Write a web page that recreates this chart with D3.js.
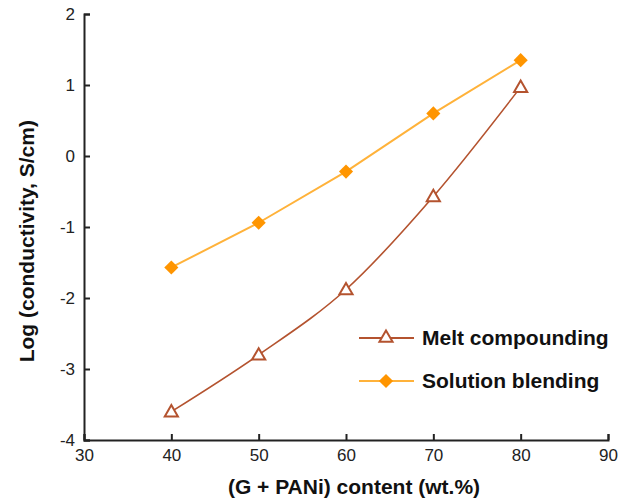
<!DOCTYPE html>
<html lang="en">
<head>
<meta charset="utf-8">
<script src="https://d3js.org/d3.v7.min.js"></script>
<style type="text/css">
body {
	margin: 0;
	background-color: #ffffff;
	font-family: "Liberation Sans", Arial, sans-serif;
}
.axis line, .axis path {
	fill: none;
	stroke: #222;
	stroke-width: 2;
}
</style>
</head>
<body>
<div id="chart"></div>
<script type="text/javascript">

	// data
	var content = [40, 50, 60, 70, 80];
	var melt = [-3.6, -2.8, -1.88, -0.57, 0.97];
	var solution = [-1.57, -0.94, -0.22, 0.6, 1.35];
	var seriesNames = ["Melt compounding", "Solution blending"];
	var xTicks = [30, 40, 50, 60, 70, 80, 90];
	var yTicks = [-4, -3, -2, -1, 0, 1, 2];

	var width = 633;
	var height = 498;
	var margin = {top: 14, right: 25, bottom: 58, left: 84};

	var meltColor = '#b4532f';
	var solLine = '#ffb23a';
	var solMark = '#ff9500';

	var svg = d3.select("#chart")
	  .append("svg")
	  .attr("width", width)
	  .attr("height", height);

	var x = d3.scaleLinear()
	  .domain([30, 90])
	  .range([margin.left, width - margin.right]);

	var y = d3.scaleLinear()
	  .domain([-4, 2])
	  .range([height - margin.bottom, margin.top]);

	var fmt = function(d) { return String(d); };

	// axes, ticks point inward
	svg.append("g")
	  .attr("class", "axis")
	  .attr("transform", "translate(0," + y(-4) + ")")
	  .call(d3.axisBottom(x).tickValues(xTicks).tickFormat(fmt).tickSizeInner(-6).tickSizeOuter(-6).tickPadding(9));

	svg.append("g")
	  .attr("class", "axis")
	  .attr("transform", "translate(" + x(30) + ",0)")
	  .call(d3.axisLeft(y).tickValues(yTicks).tickFormat(fmt).tickSizeInner(-6).tickSizeOuter(-6).tickPadding(9));

	svg.selectAll(".axis text")
	  .attr("font-size", 17)
	  .attr("font-family", "Liberation Sans, Arial, sans-serif")
	  .attr("fill", "#222");

	var meltData = content.map(function(c, i) { return [c, melt[i]]; });
	var solData = content.map(function(c, i) { return [c, solution[i]]; });

	var line = d3.line()
	  .x(function(d) { return x(d[0]); })
	  .y(function(d) { return y(d[1]); });

	svg.append("path")
	  .datum(solData)
	  .attr("d", line.curve(d3.curveLinear))
	  .style("fill", "none")
	  .style("stroke", solLine)
	  .style("stroke-width", 2);

	svg.append("path")
	  .datum(meltData)
	  .attr("d", line.curve(d3.curveMonotoneX))
	  .style("fill", "none")
	  .style("stroke", meltColor)
	  .style("stroke-width", 1.6);

	var tri = d3.symbol().type(d3.symbolTriangle).size(75);
	var sq = d3.symbol().type(d3.symbolSquare).size(100);

	svg.selectAll(".tri")
	  .data(meltData)
	  .enter()
	  .append("path")
	  .attr("class", "tri")
	  .attr("d", tri)
	  .attr("transform", function(d) { return "translate(" + x(d[0]) + "," + (y(d[1]) + 1) + ")"; })
	  .style("fill", "#fff")
	  .style("stroke", meltColor)
	  .style("stroke-width", 2);

	svg.selectAll(".dia")
	  .data(solData)
	  .enter()
	  .append("path")
	  .attr("class", "dia")
	  .attr("d", sq)
	  .attr("transform", function(d) { return "translate(" + x(d[0]) + "," + y(d[1]) + ") rotate(45)"; })
	  .style("fill", solMark);

	// axis titles
	svg.append("text")
	  .attr("x", 354)
	  .attr("y", 494)
	  .attr("text-anchor", "middle")
	  .style("font-size", "21px")
	  .style("font-weight", "bold")
	  .style("fill", "#111")
	  .text("(G + PANi) content (wt.%)");

	svg.append("text")
	  .attr("transform", "translate(34," + y(-1.2) + ") rotate(-90)")
	  .attr("text-anchor", "middle")
	  .style("font-size", "21px")
	  .style("font-weight", "bold")
	  .style("fill", "#111")
	  .text("Log (conductivity, S/cm)");

	// legend
	var legend = svg.append("g").attr("transform", "translate(359,338)");
	var styles = [
	  {color: meltColor, sym: tri, fill: "#fff", stroke: meltColor, rot: 0},
	  {color: solLine, sym: sq, fill: solMark, stroke: "none", rot: 45}
	];
	seriesNames.forEach(function(name, i) {
	  var g = legend.append("g").attr("transform", "translate(0," + (i * 43) + ")");
	  g.append("line")
	    .attr("x1", 0).attr("x2", 55)
	    .style("stroke", styles[i].color)
	    .style("stroke-width", 2);
	  g.append("path")
	    .attr("d", styles[i].sym)
	    .attr("transform", "translate(27,0) rotate(" + styles[i].rot + ")")
	    .style("fill", styles[i].fill)
	    .style("stroke", styles[i].stroke)
	    .style("stroke-width", 2);
	  g.append("text")
	    .attr("x", 63)
	    .attr("y", 7)
	    .style("font-size", "21px")
	    .style("font-weight", "bold")
	    .style("fill", "#111")
	    .text(name);
	});

</script>
</body>
</html>
